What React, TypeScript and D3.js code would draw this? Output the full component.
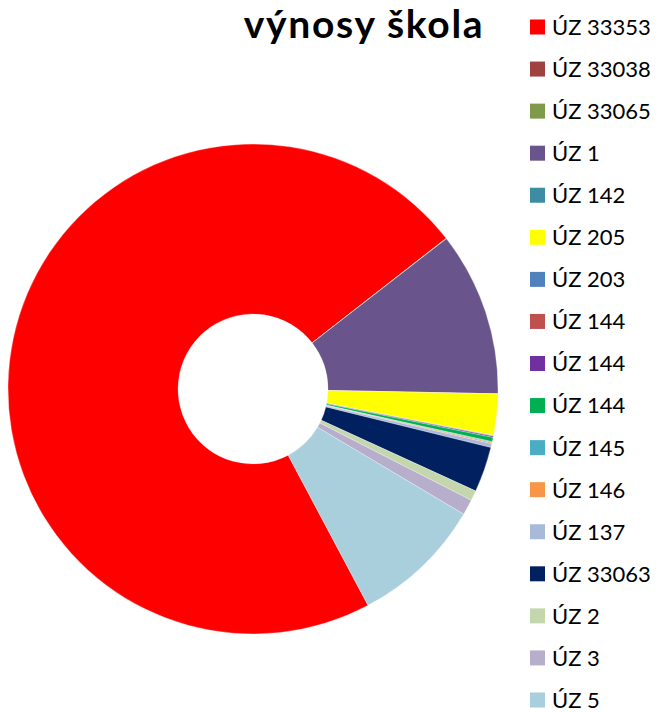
import React from "react";
import * as d3 from "d3";

const categories = [
  "ÚZ 33353", "ÚZ 33038", "ÚZ 33065", "ÚZ 1", "ÚZ 142", "ÚZ 205", "ÚZ 203",
  "ÚZ 144", "ÚZ 144", "ÚZ 144", "ÚZ 145", "ÚZ 146", "ÚZ 137", "ÚZ 33063",
  "ÚZ 2", "ÚZ 3", "ÚZ 5",
];
const values = [
  26020, 6, 6, 3900, 0, 980, 10, 10, 30, 100, 20, 30, 90, 1080, 240, 370, 3130,
];
const colors = [
  "#ff0000", "#9e413f", "#7f9a48", "#69548b", "#3c8da3", "#ffff00", "#4f81bd",
  "#c0504d", "#7030a0", "#00b050", "#4bacc6", "#f79646", "#a9b9d9", "#002060",
  "#c4d6ac", "#b7aecb", "#a9cedc",
];
const title = "výnosy škola";

export default function App() {
  const W = 658, H = 713;
  const cx = 253, cy = 389, R = 245, r = 75;
  const startDeg = 152;
  const pie = d3.pie<number>().sort(null).value((d) => d)
    .startAngle((startDeg * Math.PI) / 180)
    .endAngle(((startDeg + 360) * Math.PI) / 180);
  const arcs = pie(values);
  const arc = d3.arc<d3.PieArcDatum<number>>().innerRadius(r).outerRadius(R);
  const legendY = d3.scalePoint<number>().domain(d3.range(categories.length)).range([27, 700]);
  return (
    <svg width={W} height={H} style={{ position: "absolute", left: 0, top: 0 }}>
      <rect width={W} height={H} fill="#fff" />
      <g transform={`translate(${cx},${cy})`}>
        {arcs.map((a, i) => (
          <path key={i} d={arc(a) || ""} fill={colors[i]} stroke="#fff" strokeWidth={0.3} />
        ))}
      </g>
      <text x={364} y={38} textAnchor="middle" fontFamily="Lato, 'Open Sans', sans-serif"
        fontWeight={700} fontSize={39} letterSpacing={1.7} fill="#000">{title}</text>
      {categories.map((c, i) => (
        <g key={i} transform={`translate(530,${legendY(i)})`}>
          <rect x={0} y={-7.5} width={15} height={15} fill={colors[i]} />
          <text x={22} y={0} dy="0.36em" fontFamily="Lato, 'Open Sans', sans-serif"
            fontSize={22} fill="#000">{c}</text>
        </g>
      ))}
    </svg>
  );
}
